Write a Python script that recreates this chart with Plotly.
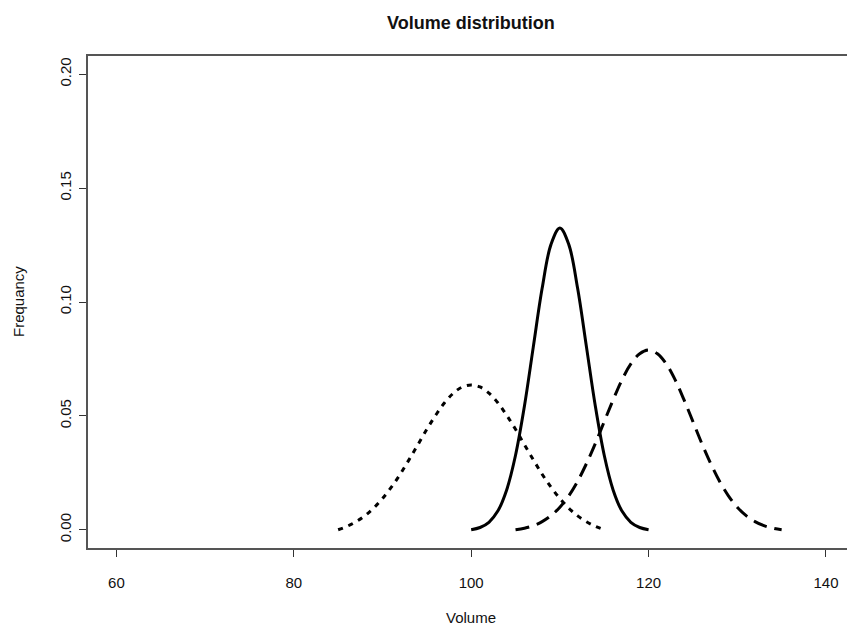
import plotly.graph_objects as go

# Volume values (x) and frequency readings (y) for each curve
vol_dotted = list(range(85, 116))
freq_dotted = [0.0000, 0.0015, 0.0035, 0.0061, 0.0095, 0.0137, 0.0187, 0.0244,
               0.0308, 0.0374, 0.0441, 0.0503, 0.0558, 0.0600, 0.0627, 0.0636,
               0.0627, 0.0600, 0.0558, 0.0503, 0.0441, 0.0374, 0.0308, 0.0244,
               0.0187, 0.0137, 0.0095, 0.0061, 0.0035, 0.0015, 0.0000]

vol_solid = list(range(100, 121))
freq_solid = [0.0000, 0.0010, 0.0033, 0.0082, 0.0175, 0.0327, 0.0542, 0.0802,
              0.1060, 0.1253, 0.1325, 0.1253, 0.1060, 0.0802, 0.0542, 0.0327,
              0.0175, 0.0082, 0.0033, 0.0010, 0.0000]

vol_dashed = list(range(105, 136))
freq_dashed = [0.0000, 0.0007, 0.0018, 0.0036, 0.0062, 0.0099, 0.0149, 0.0213,
               0.0291, 0.0379, 0.0475, 0.0570, 0.0658, 0.0728, 0.0773, 0.0789,
               0.0773, 0.0728, 0.0658, 0.0570, 0.0475, 0.0379, 0.0291, 0.0213,
               0.0149, 0.0099, 0.0062, 0.0036, 0.0018, 0.0007, 0.0000]

x_ticks = [60, 80, 100, 120, 140]
y_ticks = [0.00, 0.05, 0.10, 0.15, 0.20]
y_tick_labels = ["0.00", "0.05", "0.10", "0.15", "0.20"]

FONT = "Liberation Sans, Arial, sans-serif"

fig = go.Figure()
fig.add_trace(go.Scatter(x=vol_dotted, y=freq_dotted, mode="lines",
                         line=dict(color="black", width=3, dash="5px,6px", shape="spline"),
                         showlegend=False))
fig.add_trace(go.Scatter(x=vol_solid, y=freq_solid, mode="lines",
                         line=dict(color="black", width=3, shape="spline"),
                         showlegend=False))
fig.add_trace(go.Scatter(x=vol_dashed, y=freq_dashed, mode="lines",
                         line=dict(color="black", width=3, dash="14px,8px", shape="spline"),
                         showlegend=False))

fig.update_layout(
    width=847, height=629,
    margin=dict(l=88, r=0, t=56, b=81),
    paper_bgcolor="white", plot_bgcolor="white",
    font=dict(family=FONT, size=15, color="black"),
    xaxis=dict(range=[56.8, 142.37], tickmode="array", tickvals=x_ticks,
               ticks="outside", ticklen=7, tickcolor="#333", tickwidth=1,
               showline=True, linecolor="#555", linewidth=1.5, mirror=True,
               showgrid=False, zeroline=False, ticklabelstandoff=13,
               tickfont=dict(size=15, color="#111")),
    yaxis=dict(range=[-0.008, 0.208], tickmode="array", tickvals=y_ticks,
               ticktext=y_tick_labels, tickangle=-90,
               ticks="outside", ticklen=7, tickcolor="#333", tickwidth=1,
               showline=True, linecolor="#555", linewidth=1.5,
               showgrid=False, zeroline=False, ticklabelstandoff=2,
               tickfont=dict(size=15, color="#111")),
    annotations=[
        dict(text="<b>Volume distribution</b>", x=100, xref="x", y=1, yref="paper",
             yanchor="middle", yshift=33, showarrow=False,
             font=dict(size=18, family=FONT, color="#111")),
        dict(text="Volume", x=100, xref="x", y=0, yref="paper",
             yanchor="middle", yshift=-69, showarrow=False,
             font=dict(size=15, family=FONT, color="#111")),
        dict(text="Frequancy", x=0, xref="paper", xanchor="center", xshift=-70,
             y=0.5, yref="paper", showarrow=False, textangle=-90,
             font=dict(size=15, family=FONT, color="#111")),
    ],
)

fig.write_html("out.html", config={"displayModeBar": False},
               post_script="document.body.style.margin='0px';document.body.style.overflow='hidden';")
